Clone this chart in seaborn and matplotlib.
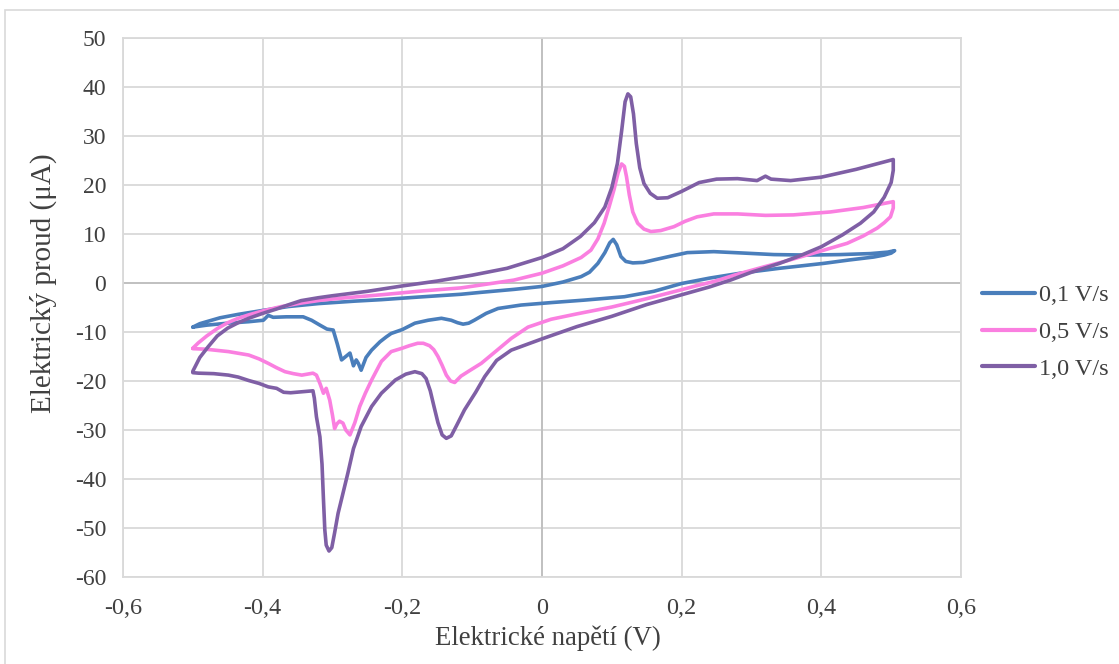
import numpy as np
import pandas as pd
import seaborn as sns
import matplotlib.pyplot as plt
from matplotlib.patches import Rectangle

# Cyclic voltammograms: potential (V) and current (uA), one closed loop per scan rate
labels = ["0,1 V/s", "0,5 V/s", "1,0 V/s"]

u_01 = [-0.500, -0.490, -0.478, -0.461, -0.435, -0.400, -0.363, -0.320, -0.268, -0.230,
        -0.180, -0.116, -0.087, -0.040, 0.000, 0.030, 0.056, 0.068, 0.080, 0.090,
        0.097, 0.102, 0.107, 0.113, 0.120, 0.130, 0.145, 0.160, 0.185, 0.208,
        0.246, 0.290, 0.332, 0.380, 0.427, 0.470, 0.495, 0.505,
        0.500, 0.490, 0.475, 0.440, 0.403, 0.340, 0.284, 0.240, 0.200, 0.160,
        0.118, 0.060, 0.013, -0.030, -0.063, -0.080, -0.097, -0.105, -0.113, -0.121,
        -0.130, -0.144, -0.163, -0.182, -0.200, -0.216, -0.223, -0.232, -0.244, -0.252,
        -0.259, -0.263, -0.266, -0.270, -0.275, -0.287, -0.293, -0.299, -0.308, -0.318,
        -0.330, -0.342, -0.366, -0.385, -0.392, -0.399, -0.420, -0.450, -0.480, -0.500]
i_01 = [-9.0, -8.3, -7.8, -7.1, -6.4, -5.6, -4.8, -4.2, -3.7, -3.4,
        -2.9, -2.3, -1.9, -1.3, -0.7, 0.2, 1.3, 2.2, 4.0, 6.2,
        8.2, 8.9, 7.8, 5.4, 4.4, 4.1, 4.2, 4.7, 5.5, 6.2,
        6.4, 6.1, 5.8, 5.7, 5.8, 6.0, 6.3, 6.6,
        6.1, 5.7, 5.3, 4.7, 4.0, 3.0, 2.0, 1.0, -0.1, -1.7,
        -2.8, -3.5, -4.0, -4.5, -5.2, -6.2, -7.6, -8.2, -8.4, -8.1,
        -7.6, -7.2, -7.6, -8.2, -9.5, -10.3, -11.0, -12.0, -13.7, -15.2,
        -17.8, -16.4, -15.7, -16.9, -14.3, -15.7, -12.5, -9.6, -9.4, -8.6,
        -7.6, -6.9, -6.9, -7.0, -6.6, -7.6, -7.9, -8.2, -8.6, -9.0]

u_05 = [-0.500, -0.492, -0.480, -0.465, -0.450, -0.435, -0.420, -0.400, -0.373, -0.345,
        -0.316, -0.280, -0.230, -0.170, -0.116, -0.087, -0.040, 0.000, 0.030, 0.056,
        0.070, 0.080, 0.089, 0.096, 0.103, 0.109, 0.114, 0.118, 0.121, 0.125,
        0.130, 0.137, 0.146, 0.156, 0.170, 0.189, 0.205, 0.222, 0.246, 0.280,
        0.320, 0.360, 0.413, 0.460, 0.503,
        0.503, 0.499, 0.490, 0.480, 0.460, 0.437, 0.389, 0.350, 0.318, 0.280,
        0.246, 0.220, 0.199, 0.150, 0.100, 0.050, 0.013, -0.020, -0.044, -0.065,
        -0.087, -0.105, -0.116, -0.125, -0.131, -0.137, -0.143, -0.149, -0.155, -0.161,
        -0.170, -0.178, -0.190, -0.200, -0.216, -0.230, -0.244, -0.253, -0.261, -0.268,
        -0.275, -0.281, -0.285, -0.290, -0.294, -0.297, -0.300, -0.304, -0.309, -0.313,
        -0.318, -0.323, -0.328, -0.344, -0.356, -0.368, -0.380, -0.392, -0.405, -0.420,
        -0.449, -0.482, -0.500]
i_05 = [-13.3, -12.2, -10.8, -9.3, -8.1, -7.2, -6.5, -5.7, -4.8, -4.1,
        -3.5, -3.0, -2.4, -1.6, -1.0, -0.4, 0.6, 2.0, 3.5, 5.2,
        6.7, 9.0, 12.2, 15.5, 19.0, 22.5, 24.3, 23.8, 21.7, 18.0,
        14.5, 12.2, 11.0, 10.5, 10.7, 11.5, 12.6, 13.5, 14.1, 14.1,
        13.8, 13.9, 14.5, 15.4, 16.6,
        15.3, 13.5, 12.3, 11.2, 9.6, 8.1, 6.1, 4.5, 3.3, 1.8,
        0.3, -0.6, -1.4, -3.2, -4.9, -6.3, -7.4, -9.0, -11.3, -13.8,
        -16.4, -18.0, -19.0, -20.3, -20.0, -18.8, -16.8, -15.0, -13.6, -12.8,
        -12.3, -12.3, -12.8, -13.3, -14.0, -16.0, -19.8, -22.5, -25.2, -28.5,
        -31.0, -30.0, -28.6, -28.2, -28.8, -29.7, -27.0, -23.9, -21.5, -22.5,
        -20.5, -18.8, -18.4, -18.8, -18.5, -18.1, -17.3, -16.4, -15.5, -14.7,
        -14.0, -13.5, -13.4]

u_10 = [-0.500, -0.490, -0.478, -0.465, -0.450, -0.435, -0.420, -0.400, -0.380, -0.360,
        -0.345, -0.320, -0.300, -0.250, -0.200, -0.150, -0.100, -0.050, 0.000, 0.030,
        0.055, 0.075, 0.090, 0.100, 0.108, 0.114, 0.119, 0.123, 0.127, 0.131,
        0.135, 0.140, 0.146, 0.155, 0.165, 0.180, 0.200, 0.225, 0.250, 0.280,
        0.308, 0.320, 0.328, 0.356, 0.400, 0.450, 0.503,
        0.503, 0.500, 0.490, 0.475, 0.456, 0.430, 0.400, 0.370, 0.340, 0.300,
        0.270, 0.240, 0.200, 0.150, 0.100, 0.050, 0.000, -0.044, -0.065, -0.082,
        -0.095, -0.111, -0.122, -0.130, -0.137, -0.143, -0.149, -0.155, -0.160, -0.166,
        -0.172, -0.182, -0.195, -0.210, -0.230, -0.244, -0.259, -0.270, -0.278, -0.286,
        -0.292, -0.297, -0.301, -0.305, -0.309, -0.311, -0.313, -0.315, -0.318, -0.323,
        -0.326, -0.328, -0.344, -0.360, -0.370, -0.380, -0.392, -0.405, -0.420, -0.435,
        -0.449, -0.470, -0.492, -0.500]
i_10 = [-18.0, -15.2, -13.0, -10.8, -9.2, -8.1, -7.2, -6.2, -5.3, -4.3,
        -3.6, -3.0, -2.6, -1.7, -0.6, 0.4, 1.6, 3.0, 5.2, 7.0,
        9.5, 12.3, 15.5, 19.5, 24.4, 31.0, 37.0, 38.6, 38.0, 34.5,
        28.5, 23.5, 20.3, 18.3, 17.3, 17.4, 18.7, 20.5, 21.2, 21.3,
        20.9, 21.8, 21.2, 20.9, 21.6, 23.2, 25.2,
        23.0, 20.5, 17.5, 14.5, 12.2, 9.8, 7.4, 5.6, 4.0, 2.2,
        0.6, -0.8, -2.4, -4.4, -6.8, -8.9, -11.4, -13.7, -15.8, -19.1,
        -22.3, -25.9, -29.0, -31.2, -31.7, -31.0, -28.5, -25.0, -22.0, -19.5,
        -18.5, -18.1, -18.6, -19.8, -22.5, -25.2, -29.3, -33.8, -38.8, -43.5,
        -47.0, -51.0, -54.0, -54.7, -53.5, -50.4, -44.0, -37.0, -31.4, -27.3,
        -23.5, -22.0, -22.2, -22.4, -22.3, -21.5, -21.2, -20.5, -19.9, -19.2,
        -18.8, -18.5, -18.4, -18.3]

x_ticks = [-0.6, -0.4, -0.2, 0.0, 0.2, 0.4, 0.6]
x_tick_labels = ["-0,6", "-0,4", "-0,2", "0", "0,2", "0,4", "0,6"]
y_ticks = list(range(-60, 51, 10))
y_tick_labels = [str(v) for v in y_ticks]

colors = ["#4A7EBB", "#FA7FE0", "#7F5FA5"]

frames = []
for lab, u, i in zip(labels, [u_01, u_05, u_10], [i_01, i_05, i_10]):
    frames.append(pd.DataFrame({"U": u, "I": i, "rychlost": lab}))
df = pd.concat(frames, ignore_index=True)

sns.set_theme(style="white")
plt.rcParams['font.family'] = ['Liberation Serif', 'DejaVu Serif']
text_color = "#404040"

fig = plt.figure(figsize=(11.19, 6.64), dpi=100)
ax = fig.add_axes([123 / 1119, 1 - 577 / 664, (961 - 123) / 1119, (577 - 38) / 664])

grid_c = "#D9D9D9"
ax.set_axisbelow(True)
ax.grid(True, color=grid_c, linewidth=1.3)
ax.axhline(0, color="#BFBFBF", linewidth=1.3, zorder=1)
ax.axvline(0, color="#BFBFBF", linewidth=1.3, zorder=1)

sns.lineplot(data=df, x="U", y="I", hue="rychlost", hue_order=labels,
             palette=colors, sort=False, estimator=None, linewidth=2.6,
             ax=ax, zorder=3)

ax.set_xlim(-0.6, 0.6)
ax.set_ylim(-60, 50)
ax.set_xticks(x_ticks)
ax.set_xticklabels(x_tick_labels)
ax.set_yticks(y_ticks)
ax.set_yticklabels(y_tick_labels)
ax.tick_params(axis="x", length=0, pad=15, labelsize=17.5, colors=text_color)
ax.tick_params(axis="y", length=0, pad=12, labelsize=17, colors=text_color)
for s in ax.spines.values():
    s.set_color(grid_c)
    s.set_linewidth(1.3)

ax.set_xlabel("Elektrické napětí (V)", fontsize=19.3, color=text_color, labelpad=4.5)
ax.set_ylabel("Elektrický proud (μA)", fontsize=21, color=text_color)
ax.xaxis.label.set_x(0.507)
ax.yaxis.set_label_coords(-0.0788, 0.545)

handles, hl = ax.get_legend_handles_labels()
leg = ax.legend(handles, hl, loc="center left", bbox_to_anchor=(960 / 1119, 1 - 332 / 664),
                bbox_transform=fig.transFigure, frameon=False, fontsize=17.5,
                handlelength=2.2, handletextpad=0.16, labelspacing=0.6)
for t in leg.get_texts():
    t.set_color(text_color)
for h in leg.get_lines():
    h.set_linewidth(3)

# light outer frame of the chart area
fig.patches.append(Rectangle((5 / 1119, -0.05), 1.2, 1.05 - 10 / 664,
                             transform=fig.transFigure, fill=False,
                             edgecolor=grid_c, linewidth=1.2))

fig.savefig("out.png", dpi=100, facecolor="white")
